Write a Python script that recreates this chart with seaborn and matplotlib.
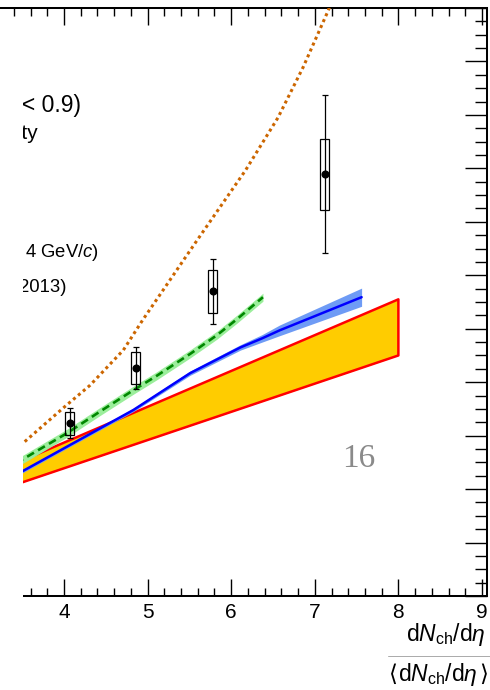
import numpy as np
import seaborn as sns
import matplotlib
matplotlib.use("Agg")
import matplotlib.pyplot as plt
from matplotlib.patches import Rectangle
from matplotlib.lines import Line2D
from matplotlib.ticker import MultipleLocator

sns.set_theme(style="ticks")
plt.rcParams["font.family"] = ["Liberation Sans", "DejaVu Sans"]
plt.rcParams["mathtext.fontset"] = "custom"
plt.rcParams["mathtext.rm"] = "Liberation Sans"
plt.rcParams["mathtext.it"] = "Liberation Sans:italic"
plt.rcParams["mathtext.bf"] = "Liberation Sans:bold"

# measured self-normalised yields
data_x = [4.07, 4.86, 5.78, 7.12]
data_y = [3.23, 4.26, 5.70, 7.89]
data_stat = [0.28, 0.39, 0.61, 1.48]
data_syst = [0.22, 0.30, 0.40, 0.66]

# model band (yellow, red edges)
band_x = [3.30, 8.00]
band_lo = [2.02, 4.50]
band_hi = [2.40, 5.55]

# blue model curve with its uncertainty
blue_x = [3.30, 3.51, 4.83, 5.51, 6.11, 6.37, 6.58, 7.56]
blue_y = [2.16, 2.34, 3.48, 4.17, 4.65, 4.82, 4.97, 5.59]
blue_err = [0.03, 0.03, 0.03, 0.04, 0.05, 0.07, 0.10, 0.17]

# green dashed model curve with its uncertainty
green_x = [3.30, 3.51, 4.04, 4.43, 4.83, 5.11, 5.51, 5.83, 6.07, 6.38]
green_y = [2.36, 2.56, 3.05, 3.45, 3.85, 4.12, 4.53, 4.88, 5.18, 5.59]
green_err = 0.075

# orange dotted model curve
orange_x = [3.30, 3.51, 4.00, 4.31, 4.71, 4.94, 5.59, 6.17, 6.56, 6.86, 7.16, 7.22]
orange_y = [2.57, 2.86, 3.53, 3.94, 4.60, 5.16, 6.65, 7.96, 8.95, 9.89, 10.95, 11.20]

xticks = [4, 5, 6, 7, 8, 9]

W, H = 490, 690


def fx(px):
    return px / W


def fy(py):
    return 1 - py / H


fig = plt.figure(figsize=(W / 100, H / 100), dpi=100)
ax = fig.add_axes([fx(-270.4), fy(596), (487 + 270.4) / W, 588 / H])
ax.set_xlim(0, 9.06)
ax.set_ylim(0, 11)

# yellow band with red outline
ax.fill_between(band_x, band_lo, band_hi, color="#FFCC00", lw=0, zorder=1)
sns.lineplot(x=band_x + band_x[::-1], y=band_lo + band_hi[::-1], sort=False,
             estimator=None, color="#FF0000", lw=1.8, ax=ax, zorder=2)

# blue curve
b_y = np.array(blue_y)
b_e = np.array(blue_err)
ax.fill_between(blue_x, b_y - b_e, b_y + b_e, color="#6E9BF5", lw=0, zorder=3)
sns.lineplot(x=blue_x, y=blue_y, sort=False, estimator=None, color="#0000FF",
             lw=1.8, ax=ax, zorder=4)

# green curve
g_y = np.array(green_y)
ax.fill_between(green_x, g_y - green_err, g_y + green_err, color="#9BEE9B",
                lw=0, zorder=3)
sns.lineplot(x=green_x, y=green_y, sort=False, estimator=None, color="#008800",
             lw=1.9, linestyle=(0, (3.0, 1.8)), ax=ax, zorder=4)

# orange curve
sns.lineplot(x=orange_x, y=orange_y, sort=False, estimator=None, color="#CC6600",
             lw=2.2, linestyle=(0, (1.0, 1.1)), ax=ax, zorder=4)

# data: systematic boxes, statistical bars, points
for x, y, s in zip(data_x, data_y, data_syst):
    ax.add_patch(Rectangle((x - 0.055, y - s), 0.11, 2 * s, fill=False,
                           edgecolor="black", lw=0.9, zorder=6))
ax.errorbar(data_x, data_y, yerr=data_stat, fmt="none", ecolor="black",
            elinewidth=0.9, capsize=2, capthick=0.9, zorder=6)
sns.scatterplot(x=data_x, y=data_y, color="black", s=34, linewidth=0, ax=ax,
                zorder=7)

# axes styling
ax.set_xticks(xticks)
ax.set_xticklabels([str(t) for t in xticks])
ax.xaxis.set_minor_locator(MultipleLocator(0.2))
ax.yaxis.set_major_locator(MultipleLocator(1))
ax.yaxis.set_minor_locator(MultipleLocator(0.25))
ax.tick_params(which="both", direction="in", top=True, right=True, bottom=True,
               left=True, labelleft=False, color="black", width=1.0)
ax.tick_params(axis="x", which="major", length=12.2, labelsize=15, pad=5,
               labelcolor="black")
ax.tick_params(axis="x", which="minor", length=6.1)
ax.tick_params(axis="y", which="major", length=15.8)
ax.tick_params(axis="y", which="minor", length=8.4)
for sp in ax.spines.values():
    sp.set_color("black")
    sp.set_linewidth(1.45)
ax.set_xlabel("")
ax.set_ylabel("")

# axis title as a fraction
frac = r"d$N_{\rm ch}$/d$\eta$"
fig.text(fx(486), fy(641), frac, ha="right", va="baseline", fontsize=16.5,
         color="black")
den = fig.text(fx(478), fy(681), frac, ha="right", va="baseline",
               fontsize=16.5, color="black")
fig.canvas.draw()
bb = den.get_window_extent(fig.canvas.get_renderer())
fig.text(bb.x0 / W - fx(1), fy(681), "⟨", ha="right", va="baseline",
         fontsize=16.5, color="black", family=["DejaVu Sans"])
fig.text(bb.x1 / W + fx(1), fy(681), "⟩", ha="left", va="baseline",
         fontsize=16.5, color="black", family=["DejaVu Sans"])
fig.add_artist(Line2D([fx(388), fx(490)], [fy(656), fy(656)], color="#aaaaaa",
                      lw=0.7, transform=fig.transFigure))

# legend / info text
fig.text(fx(2), fy(73), "ALICE", ha="right", va="baseline", fontsize=36,
         fontweight="bold", color="#e3e3e3")
fig.text(fx(81), fy(112), "pp, √s = 13 TeV (|η| < 0.9)", ha="right",
         va="baseline", fontsize=16.5, color="black")
fig.text(fx(38), fy(139), "charged-particle multiplicity", ha="right",
         va="baseline", fontsize=15, color="black")
fig.text(fx(99), fy(257), r"J/ψ (0 < $p_{\rm T}$ < 4 GeV/$c$)", ha="right",
         va="baseline", fontsize=13.3, color="black")
fig.text(fx(67), fy(292), "PYTHIA 8 Monash (2013)", ha="right", va="baseline",
         fontsize=13.3, color="black")

fig.text(fx(359), fy(467), "16", ha="center", va="baseline", fontsize=24,
         color="#8a8a8a", family=["Liberation Serif", "DejaVu Serif"])

# blank strip on the left edge
fig.add_artist(Rectangle((0, 0), fx(22.5), fy(82), transform=fig.transFigure,
                         facecolor="white", edgecolor="none", zorder=5))

fig.savefig("out.png", dpi=100)
